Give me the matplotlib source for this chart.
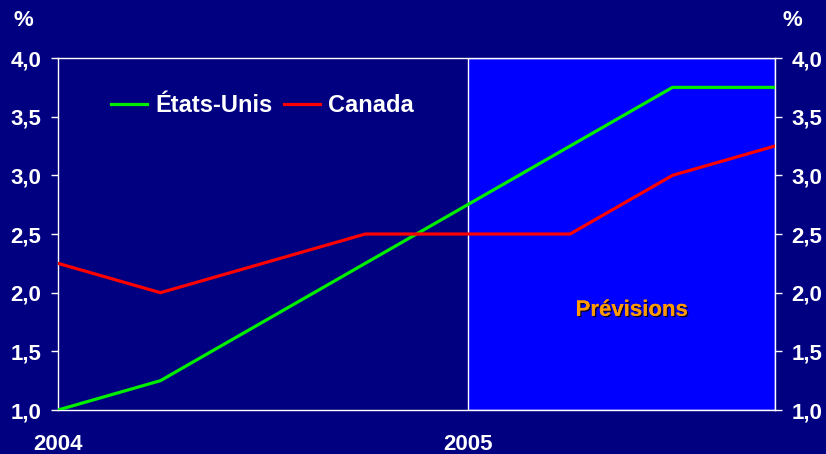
import matplotlib.pyplot as plt
import matplotlib.patheffects as pe
from matplotlib.ticker import FuncFormatter

plt.rcParams['font.family'] = ['Liberation Sans', 'DejaVu Sans']
plt.rcParams['font.weight'] = 'bold'

# quarterly points, 2004Q1 .. 2005Q4
quarters = [0, 1, 2, 3, 4, 5, 6, 7]
etats_unis = [1.0, 1.25, 1.75, 2.25, 2.75, 3.25, 3.75, 3.75]
canada = [2.25, 2.0, 2.25, 2.5, 2.5, 2.5, 3.0, 3.25]
year_ticks = [0, 4]
year_labels = ['2004', '2005']
forecast_start = 4

bg = '#000080'
fig = plt.figure(figsize=(8.26, 4.54), dpi=100, facecolor=bg)
ax = fig.add_axes([0.0702, 0.0969, 0.8680, 0.7753], facecolor=bg)

ax.axvspan(forecast_start, 7, facecolor='#0000ff', edgecolor='white', linewidth=1, zorder=0)
ax.plot(quarters, etats_unis, color='#00ee00', lw=2.3, label='États-Unis', zorder=3)
ax.plot(quarters, canada, color='#ff0000', lw=2.3, label='Canada', zorder=3)

ax.set_xlim(0, 7)
ax.set_ylim(1.0, 4.0)
ax.set_yticks([1.0, 1.5, 2.0, 2.5, 3.0, 3.5, 4.0])
ax.yaxis.set_major_formatter(FuncFormatter(lambda v, p: f'{v:.1f}'.replace('.', ',')))
ax.set_xticks(year_ticks)
ax.set_xticklabels(year_labels)
ax.tick_params(axis='x', length=0, pad=17, colors='white', labelsize=16)
ax.tick_params(axis='y', which='both', left=True, right=True, labelleft=True, labelright=True,
               length=5, width=1, colors='white', labelsize=16, pad=7)
for s in ax.spines.values():
    s.set_color('white')
    s.set_linewidth(1)

fig.text(23 / 826, 1 - 21 / 454, '%', color='white', fontsize=16, fontweight='bold', va='center', ha='center')
fig.text(792 / 826, 1 - 21 / 454, '%', color='white', fontsize=16, fontweight='bold', va='center', ha='center')

ax.text(5.6, 1.85, 'Prévisions', color='#ff9900', fontsize=16, fontweight='bold', ha='center', va='center',
        path_effects=[pe.withSimplePatchShadow(offset=(1, -1), shadow_rgbFace='black', alpha=0.8), pe.Normal()])

leg = ax.legend(loc='center left', bbox_to_anchor=(0.045, 0.865), ncol=2, frameon=False,
                fontsize=17, handlelength=1.5, columnspacing=0.5, handletextpad=0.35)
for t in leg.get_texts():
    t.set_color('white')

fig.savefig('out.png', dpi=100, facecolor=bg)
